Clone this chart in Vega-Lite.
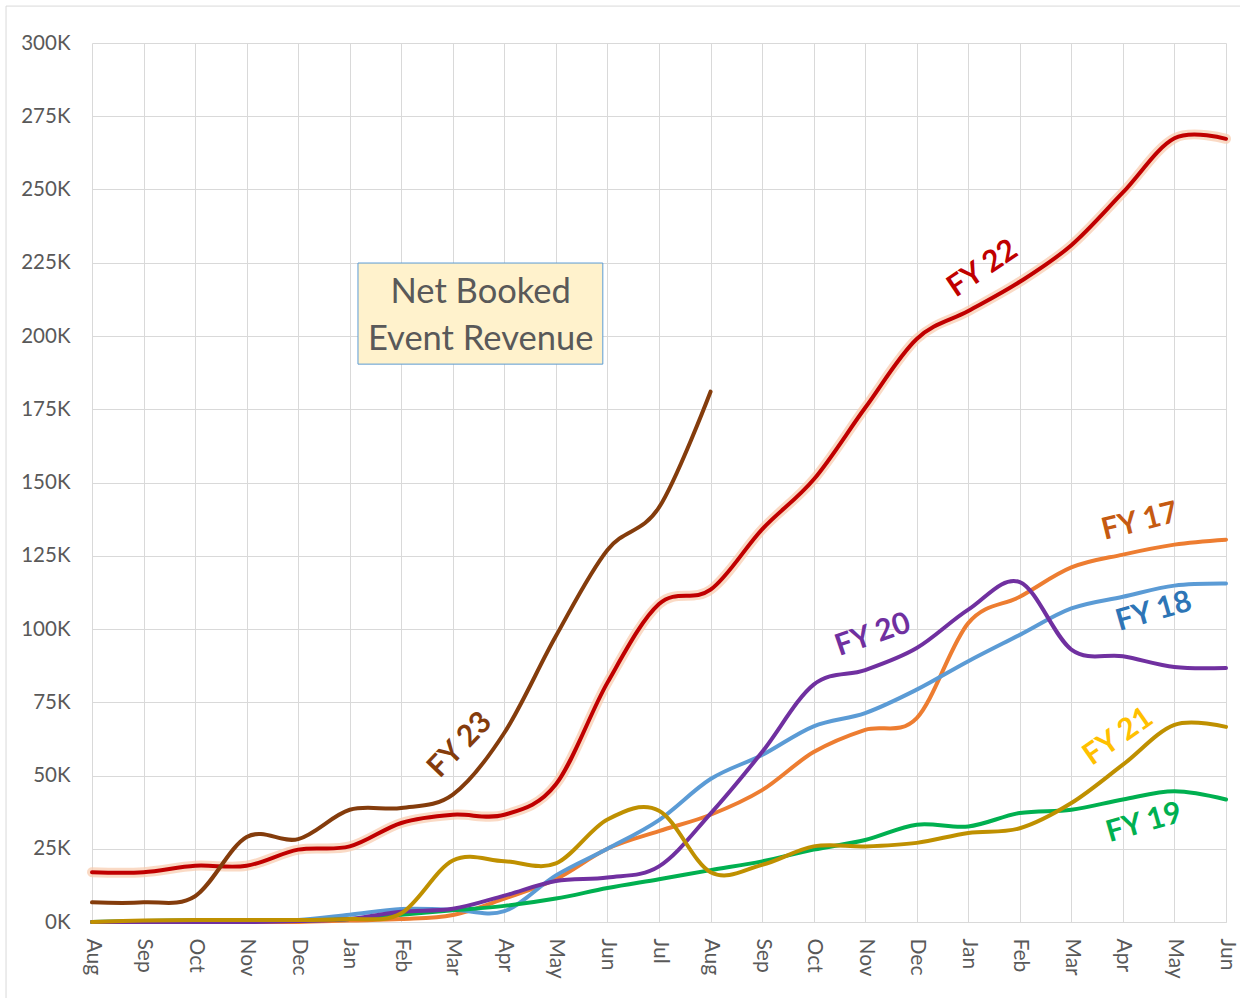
{
  "$schema": "https://vega.github.io/schema/vega-lite/v6.json",
  "width": 1134,
  "height": 879,
  "autosize": {"type": "none"},
  "padding": {"left": 92, "top": 43, "right": 14, "bottom": 76},
  "background": "white",
  "config": {"view": {"stroke": null}, "font": "Lato"},
  "datasets": {
    "series": [
      {"fy": "FY 17", "m": 0, "v": 0}, {"fy": "FY 17", "m": 1, "v": 0}, {"fy": "FY 17", "m": 2, "v": 0}, {"fy": "FY 17", "m": 3, "v": 0}, {"fy": "FY 17", "m": 4, "v": 0}, {"fy": "FY 17", "m": 5, "v": 0.5}, {"fy": "FY 17", "m": 6, "v": 1}, {"fy": "FY 17", "m": 7, "v": 2.4}, {"fy": "FY 17", "m": 8, "v": 8}, {"fy": "FY 17", "m": 9, "v": 14.6}, {"fy": "FY 17", "m": 10, "v": 25}, {"fy": "FY 17", "m": 11, "v": 31}, {"fy": "FY 17", "m": 12, "v": 36.6}, {"fy": "FY 17", "m": 13, "v": 45}, {"fy": "FY 17", "m": 14, "v": 58}, {"fy": "FY 17", "m": 15, "v": 65.6}, {"fy": "FY 17", "m": 16, "v": 69.6}, {"fy": "FY 17", "m": 17, "v": 102}, {"fy": "FY 17", "m": 18, "v": 111}, {"fy": "FY 17", "m": 19, "v": 121}, {"fy": "FY 17", "m": 20, "v": 125.4}, {"fy": "FY 17", "m": 21, "v": 128.8}, {"fy": "FY 17", "m": 22, "v": 130.5},
      {"fy": "FY 18", "m": 0, "v": 0}, {"fy": "FY 18", "m": 1, "v": 0.3}, {"fy": "FY 18", "m": 2, "v": 0.5}, {"fy": "FY 18", "m": 3, "v": 0.5}, {"fy": "FY 18", "m": 4, "v": 0.7}, {"fy": "FY 18", "m": 5, "v": 2.5}, {"fy": "FY 18", "m": 6, "v": 4.4}, {"fy": "FY 18", "m": 7, "v": 4.2}, {"fy": "FY 18", "m": 8, "v": 3.7}, {"fy": "FY 18", "m": 9, "v": 15.9}, {"fy": "FY 18", "m": 10, "v": 25}, {"fy": "FY 18", "m": 11, "v": 34.8}, {"fy": "FY 18", "m": 12, "v": 48.8}, {"fy": "FY 18", "m": 13, "v": 57}, {"fy": "FY 18", "m": 14, "v": 66.8}, {"fy": "FY 18", "m": 15, "v": 71.3}, {"fy": "FY 18", "m": 16, "v": 79.3}, {"fy": "FY 18", "m": 17, "v": 89}, {"fy": "FY 18", "m": 18, "v": 98}, {"fy": "FY 18", "m": 19, "v": 107}, {"fy": "FY 18", "m": 20, "v": 111}, {"fy": "FY 18", "m": 21, "v": 114.8}, {"fy": "FY 18", "m": 22, "v": 115.5},
      {"fy": "FY 19", "m": 0, "v": 0}, {"fy": "FY 19", "m": 1, "v": 0.3}, {"fy": "FY 19", "m": 2, "v": 0.5}, {"fy": "FY 19", "m": 3, "v": 0.5}, {"fy": "FY 19", "m": 4, "v": 0.5}, {"fy": "FY 19", "m": 5, "v": 1}, {"fy": "FY 19", "m": 6, "v": 2.5}, {"fy": "FY 19", "m": 7, "v": 4}, {"fy": "FY 19", "m": 8, "v": 5.5}, {"fy": "FY 19", "m": 9, "v": 8}, {"fy": "FY 19", "m": 10, "v": 11.6}, {"fy": "FY 19", "m": 11, "v": 14.6}, {"fy": "FY 19", "m": 12, "v": 17.7}, {"fy": "FY 19", "m": 13, "v": 20.7}, {"fy": "FY 19", "m": 14, "v": 24.7}, {"fy": "FY 19", "m": 15, "v": 28}, {"fy": "FY 19", "m": 16, "v": 33.2}, {"fy": "FY 19", "m": 17, "v": 32.6}, {"fy": "FY 19", "m": 18, "v": 37.2}, {"fy": "FY 19", "m": 19, "v": 38.3}, {"fy": "FY 19", "m": 20, "v": 41.8}, {"fy": "FY 19", "m": 21, "v": 44.6}, {"fy": "FY 19", "m": 22, "v": 41.8},
      {"fy": "FY 20", "m": 0, "v": 0}, {"fy": "FY 20", "m": 1, "v": 0}, {"fy": "FY 20", "m": 2, "v": 0}, {"fy": "FY 20", "m": 3, "v": 0}, {"fy": "FY 20", "m": 4, "v": 0.3}, {"fy": "FY 20", "m": 5, "v": 1}, {"fy": "FY 20", "m": 6, "v": 3.5}, {"fy": "FY 20", "m": 7, "v": 4.5}, {"fy": "FY 20", "m": 8, "v": 9}, {"fy": "FY 20", "m": 9, "v": 14}, {"fy": "FY 20", "m": 10, "v": 15.2}, {"fy": "FY 20", "m": 11, "v": 19}, {"fy": "FY 20", "m": 12, "v": 37}, {"fy": "FY 20", "m": 13, "v": 58}, {"fy": "FY 20", "m": 14, "v": 81}, {"fy": "FY 20", "m": 15, "v": 86}, {"fy": "FY 20", "m": 16, "v": 93.5}, {"fy": "FY 20", "m": 17, "v": 106.6}, {"fy": "FY 20", "m": 18, "v": 116}, {"fy": "FY 20", "m": 19, "v": 93}, {"fy": "FY 20", "m": 20, "v": 90.7}, {"fy": "FY 20", "m": 21, "v": 87}, {"fy": "FY 20", "m": 22, "v": 86.7},
      {"fy": "FY 21", "m": 0, "v": 0}, {"fy": "FY 21", "m": 1, "v": 0.5}, {"fy": "FY 21", "m": 2, "v": 0.7}, {"fy": "FY 21", "m": 3, "v": 0.7}, {"fy": "FY 21", "m": 4, "v": 0.7}, {"fy": "FY 21", "m": 5, "v": 1}, {"fy": "FY 21", "m": 6, "v": 3}, {"fy": "FY 21", "m": 7, "v": 21}, {"fy": "FY 21", "m": 8, "v": 20.7}, {"fy": "FY 21", "m": 9, "v": 20}, {"fy": "FY 21", "m": 10, "v": 35}, {"fy": "FY 21", "m": 11, "v": 38}, {"fy": "FY 21", "m": 12, "v": 17}, {"fy": "FY 21", "m": 13, "v": 19.5}, {"fy": "FY 21", "m": 14, "v": 25.8}, {"fy": "FY 21", "m": 15, "v": 25.8}, {"fy": "FY 21", "m": 16, "v": 27}, {"fy": "FY 21", "m": 17, "v": 30.4}, {"fy": "FY 21", "m": 18, "v": 32}, {"fy": "FY 21", "m": 19, "v": 40.6}, {"fy": "FY 21", "m": 20, "v": 53.7}, {"fy": "FY 21", "m": 21, "v": 67.3}, {"fy": "FY 21", "m": 22, "v": 66.6},
      {"fy": "FY 22", "m": 0, "v": 17}, {"fy": "FY 22", "m": 1, "v": 17}, {"fy": "FY 22", "m": 2, "v": 19.2}, {"fy": "FY 22", "m": 3, "v": 19.2}, {"fy": "FY 22", "m": 4, "v": 24.7}, {"fy": "FY 22", "m": 5, "v": 25.8}, {"fy": "FY 22", "m": 6, "v": 33.8}, {"fy": "FY 22", "m": 7, "v": 36.6}, {"fy": "FY 22", "m": 8, "v": 36.6}, {"fy": "FY 22", "m": 9, "v": 47}, {"fy": "FY 22", "m": 10, "v": 81.7}, {"fy": "FY 22", "m": 11, "v": 108.5}, {"fy": "FY 22", "m": 12, "v": 113.4}, {"fy": "FY 22", "m": 13, "v": 134}, {"fy": "FY 22", "m": 14, "v": 151}, {"fy": "FY 22", "m": 15, "v": 175.5}, {"fy": "FY 22", "m": 16, "v": 199}, {"fy": "FY 22", "m": 17, "v": 208.5}, {"fy": "FY 22", "m": 18, "v": 218.5}, {"fy": "FY 22", "m": 19, "v": 231}, {"fy": "FY 22", "m": 20, "v": 249}, {"fy": "FY 22", "m": 21, "v": 267.5}, {"fy": "FY 22", "m": 22, "v": 267.3},
      {"fy": "FY 23", "m": 0, "v": 6.7}, {"fy": "FY 23", "m": 1, "v": 6.7}, {"fy": "FY 23", "m": 2, "v": 8.8}, {"fy": "FY 23", "m": 3, "v": 29}, {"fy": "FY 23", "m": 4, "v": 28.3}, {"fy": "FY 23", "m": 5, "v": 38.3}, {"fy": "FY 23", "m": 6, "v": 38.9}, {"fy": "FY 23", "m": 7, "v": 43.5}, {"fy": "FY 23", "m": 8, "v": 64.6}, {"fy": "FY 23", "m": 9, "v": 97.6}, {"fy": "FY 23", "m": 10, "v": 127}, {"fy": "FY 23", "m": 11, "v": 141.5}, {"fy": "FY 23", "m": 12, "v": 181}
    ],
    "labels": [
      {"fy": "FY 17", "m": 20.33, "v": 136.6},
      {"fy": "FY 18", "m": 20.6, "v": 105.9},
      {"fy": "FY 19", "m": 20.41, "v": 33.8},
      {"fy": "FY 20", "m": 15.15, "v": 98},
      {"fy": "FY 21", "m": 19.91, "v": 63.2},
      {"fy": "FY 22", "m": 17.28, "v": 223},
      {"fy": "FY 23", "m": 7.14, "v": 60.4}
    ],
    "box": [{"m": 5.16, "m2": 9.91, "v": 224.9, "v2": 190.4}],
    "boxtext": [
      {"m": 7.54, "v": 214.7, "t": "Net Booked"},
      {"m": 7.54, "v": 198.6, "t": "Event Revenue"}
    ],
    "frame": [{"m": -1.668, "m2": 22.46, "v": 312.6, "v2": -28.3}]
  },
  "encoding": {
    "x": {
      "field": "m", "type": "quantitative",
      "scale": {"domain": [0, 22], "nice": false, "zero": false},
      "axis": {
        "title": null,
        "values": [0,1,2,3,4,5,6,7,8,9,10,11,12,13,14,15,16,17,18,19,20,21,22],
        "labelExpr": "['Aug','Sep','Oct','Nov','Dec','Jan','Feb','Mar','Apr','May','Jun','Jul'][datum.value % 12]",
        "labelAngle": 90, "labelAlign": "left", "labelBaseline": "middle",
        "labelPadding": 16, "labelFontSize": 21, "labelColor": "#595959", "labelFont": "Lato",
        "ticks": false, "domainColor": "#D9D9D9", "grid": true, "gridColor": "#D9D9D9",
        "labelOverlap": false, "labelBound": false, "labelFlush": false
      }
    },
    "y": {
      "field": "v", "type": "quantitative",
      "scale": {"domain": [0, 300], "nice": false},
      "axis": {
        "title": null,
        "values": [0,25,50,75,100,125,150,175,200,225,250,275,300],
        "labelExpr": "datum.value + 'K'",
        "labelPadding": 22, "labelFontSize": 20.5, "labelColor": "#595959", "labelFont": "Lato",
        "ticks": false, "domain": false, "grid": true, "gridColor": "#D9D9D9",
        "labelOverlap": false
      }
    }
  },
  "layer": [
    {
      "data": {"name": "frame"},
      "mark": {"type": "rect", "fill": null, "fillOpacity": 0, "stroke": "#D9D9D9", "strokeWidth": 1},
      "encoding": {"x2": {"field": "m2"}, "y2": {"field": "v2"}}
    },
    {
      "data": {"name": "box"},
      "mark": {"type": "rect", "fill": "#FFF2CC", "stroke": "#5B9BD5", "strokeWidth": 1},
      "encoding": {"x2": {"field": "m2"}, "y2": {"field": "v2"}}
    },
    {
      "data": {"name": "boxtext"},
      "mark": {"type": "text", "font": "Lato", "fontSize": 34.5, "color": "#595959", "align": "center", "baseline": "middle"},
      "encoding": {"text": {"field": "t"}}
    },
    {
      "data": {"name": "series"},
      "transform": [{"filter": "datum.fy === 'FY 22'"}],
      "mark": {"type": "line", "interpolate": "cardinal", "stroke": "#F8CBAD", "strokeWidth": 10, "opacity": 0.7, "strokeCap": "round"},
      "encoding": {}
    },
    {
      "data": {"name": "series"},
      "mark": {"type": "line", "interpolate": "cardinal", "strokeCap": "round", "strokeJoin": "round"},
      "encoding": {
        "color": {
          "field": "fy", "type": "nominal", "legend": null,
          "scale": {
            "domain": ["FY 17", "FY 18", "FY 19", "FY 20", "FY 21", "FY 22", "FY 23"],
            "range": ["#ED7D31", "#5B9BD5", "#00B050", "#7030A0", "#BF9000", "#C00000", "#843C0C"]
          }
        },
        "strokeWidth": {
          "field": "fy", "type": "nominal", "legend": null,
          "scale": {
            "domain": ["FY 17", "FY 18", "FY 19", "FY 20", "FY 21", "FY 22", "FY 23"],
            "range": [4, 4, 4, 4, 4.2, 6, 3.5]
          }
        }
      }
    },
    {
      "data": {"name": "labels"},
      "transform": [{"filter": "datum.fy === 'FY 17'"}],
      "mark": {"type": "text", "font": "Lato", "fontWeight": "bold", "fontSize": 30, "angle": -14, "color": "#C55A11", "align": "center", "baseline": "middle"},
      "encoding": {"text": {"field": "fy"}}
    },
    {
      "data": {"name": "labels"},
      "transform": [{"filter": "datum.fy === 'FY 18'"}],
      "mark": {"type": "text", "font": "Lato", "fontWeight": "bold", "fontSize": 30, "angle": -16, "color": "#2E75B6", "align": "center", "baseline": "middle"},
      "encoding": {"text": {"field": "fy"}}
    },
    {
      "data": {"name": "labels"},
      "transform": [{"filter": "datum.fy === 'FY 19'"}],
      "mark": {"type": "text", "font": "Lato", "fontWeight": "bold", "fontSize": 30, "angle": -16, "color": "#00B050", "align": "center", "baseline": "middle"},
      "encoding": {"text": {"field": "fy"}}
    },
    {
      "data": {"name": "labels"},
      "transform": [{"filter": "datum.fy === 'FY 20'"}],
      "mark": {"type": "text", "font": "Lato", "fontWeight": "bold", "fontSize": 30, "angle": -19, "color": "#7030A0", "align": "center", "baseline": "middle"},
      "encoding": {"text": {"field": "fy"}}
    },
    {
      "data": {"name": "labels"},
      "transform": [{"filter": "datum.fy === 'FY 21'"}],
      "mark": {"type": "text", "font": "Lato", "fontWeight": "bold", "fontSize": 30, "angle": -35, "color": "#FFC000", "align": "center", "baseline": "middle"},
      "encoding": {"text": {"field": "fy"}}
    },
    {
      "data": {"name": "labels"},
      "transform": [{"filter": "datum.fy === 'FY 22'"}],
      "mark": {"type": "text", "font": "Lato", "fontWeight": "bold", "fontSize": 30, "angle": -34, "color": "#C00000", "align": "center", "baseline": "middle"},
      "encoding": {"text": {"field": "fy"}}
    },
    {
      "data": {"name": "labels"},
      "transform": [{"filter": "datum.fy === 'FY 23'"}],
      "mark": {"type": "text", "font": "Lato", "fontWeight": "bold", "fontSize": 30, "angle": -46, "color": "#843C0C", "align": "center", "baseline": "middle"},
      "encoding": {"text": {"field": "fy"}}
    }
  ]
}
